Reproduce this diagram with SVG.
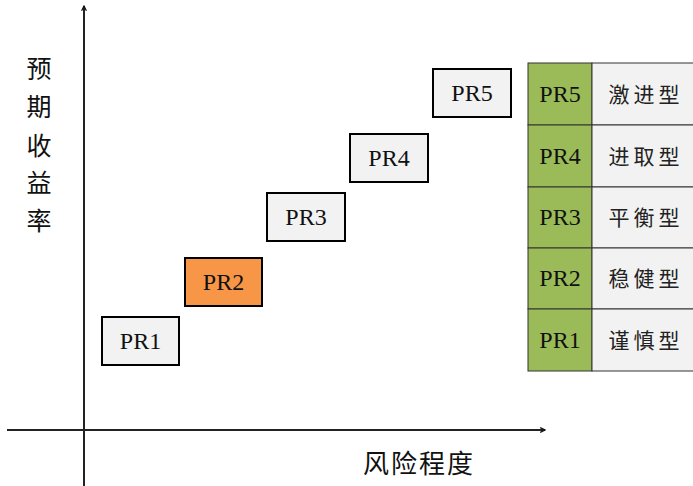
<svg xmlns="http://www.w3.org/2000/svg" width="693" height="486" viewBox="0 0 693 486">
<defs>
<style>
.box{fill:#F2F2F2;stroke:#000;stroke-width:2}
.hl{fill:#F79646;stroke:#000;stroke-width:2}
.g{fill:#9BBB59;stroke:#333;stroke-width:1}
.c{fill:#F2F2F2;stroke:#333;stroke-width:1}
.pr{font-family:'Liberation Serif',serif;font-size:24px;text-anchor:middle;fill:#111}
.cn{font-family:'Noto Sans CJK SC',sans-serif;font-size:21px;text-anchor:middle;fill:#222;letter-spacing:4px}
.ax{font-family:'Noto Sans CJK SC',sans-serif;font-size:25px;text-anchor:middle;fill:#111}
.axis{stroke:#222;stroke-width:2;fill:none}
</style>
<marker id="arr" viewBox="0 0 10 10" refX="9" refY="5" markerWidth="6" markerHeight="6" orient="auto" markerUnits="userSpaceOnUse">
<path d="M1,1 L9,5 L1,9" fill="none" stroke="#111" stroke-width="2"/>
</marker>
</defs>
<rect width="693" height="486" fill="#fff"/>
<g id="axes">
<line class="axis" x1="84" y1="486" x2="84" y2="6" marker-end="url(#arr)"/>
<line class="axis" x1="7" y1="430" x2="545" y2="430" marker-end="url(#arr)"/>
</g>
<g id="y-label">
<text class="ax" x="39" y="78">预</text>
<text class="ax" x="39" y="116">期</text>
<text class="ax" x="39" y="155">收</text>
<text class="ax" x="39" y="192">益</text>
<text class="ax" x="39" y="230">率</text>
</g>
<g id="x-label"><text class="ax" x="419" y="473" style="font-size:26px;letter-spacing:2px">风险程度</text></g>
<g id="pr1"><rect class="box" x="102" y="317" width="77" height="48"/><text class="pr" x="140.5" y="349">PR1</text></g>
<g id="pr2"><rect class="hl" x="185" y="258" width="77" height="48"/><text class="pr" x="223.5" y="290">PR2</text></g>
<g id="pr3"><rect class="box" x="267" y="193" width="78" height="48"/><text class="pr" x="306" y="225">PR3</text></g>
<g id="pr4"><rect class="box" x="350" y="134" width="78" height="48"/><text class="pr" x="389" y="166">PR4</text></g>
<g id="pr5"><rect class="box" x="433" y="69" width="78" height="48"/><text class="pr" x="472" y="101">PR5</text></g>
<g id="table">
<g id="row5"><rect class="g" x="528" y="63" width="64" height="62"/><rect class="c" x="592" y="63" width="102" height="62"/><text class="pr" x="560" y="102">PR5</text><text class="cn" x="646" y="102">激进型</text></g>
<g id="row4"><rect class="g" x="528" y="125" width="64" height="62"/><rect class="c" x="592" y="125" width="102" height="62"/><text class="pr" x="560" y="164">PR4</text><text class="cn" x="646" y="164">进取型</text></g>
<g id="row3"><rect class="g" x="528" y="187" width="64" height="61"/><rect class="c" x="592" y="187" width="102" height="61"/><text class="pr" x="560" y="225">PR3</text><text class="cn" x="646" y="225">平衡型</text></g>
<g id="row2"><rect class="g" x="528" y="248" width="64" height="61"/><rect class="c" x="592" y="248" width="102" height="61"/><text class="pr" x="560" y="286">PR2</text><text class="cn" x="646" y="286">稳健型</text></g>
<g id="row1"><rect class="g" x="528" y="309" width="64" height="62"/><rect class="c" x="592" y="309" width="102" height="62"/><text class="pr" x="560" y="348">PR1</text><text class="cn" x="646" y="348">谨慎型</text></g>
</g>
</svg>
